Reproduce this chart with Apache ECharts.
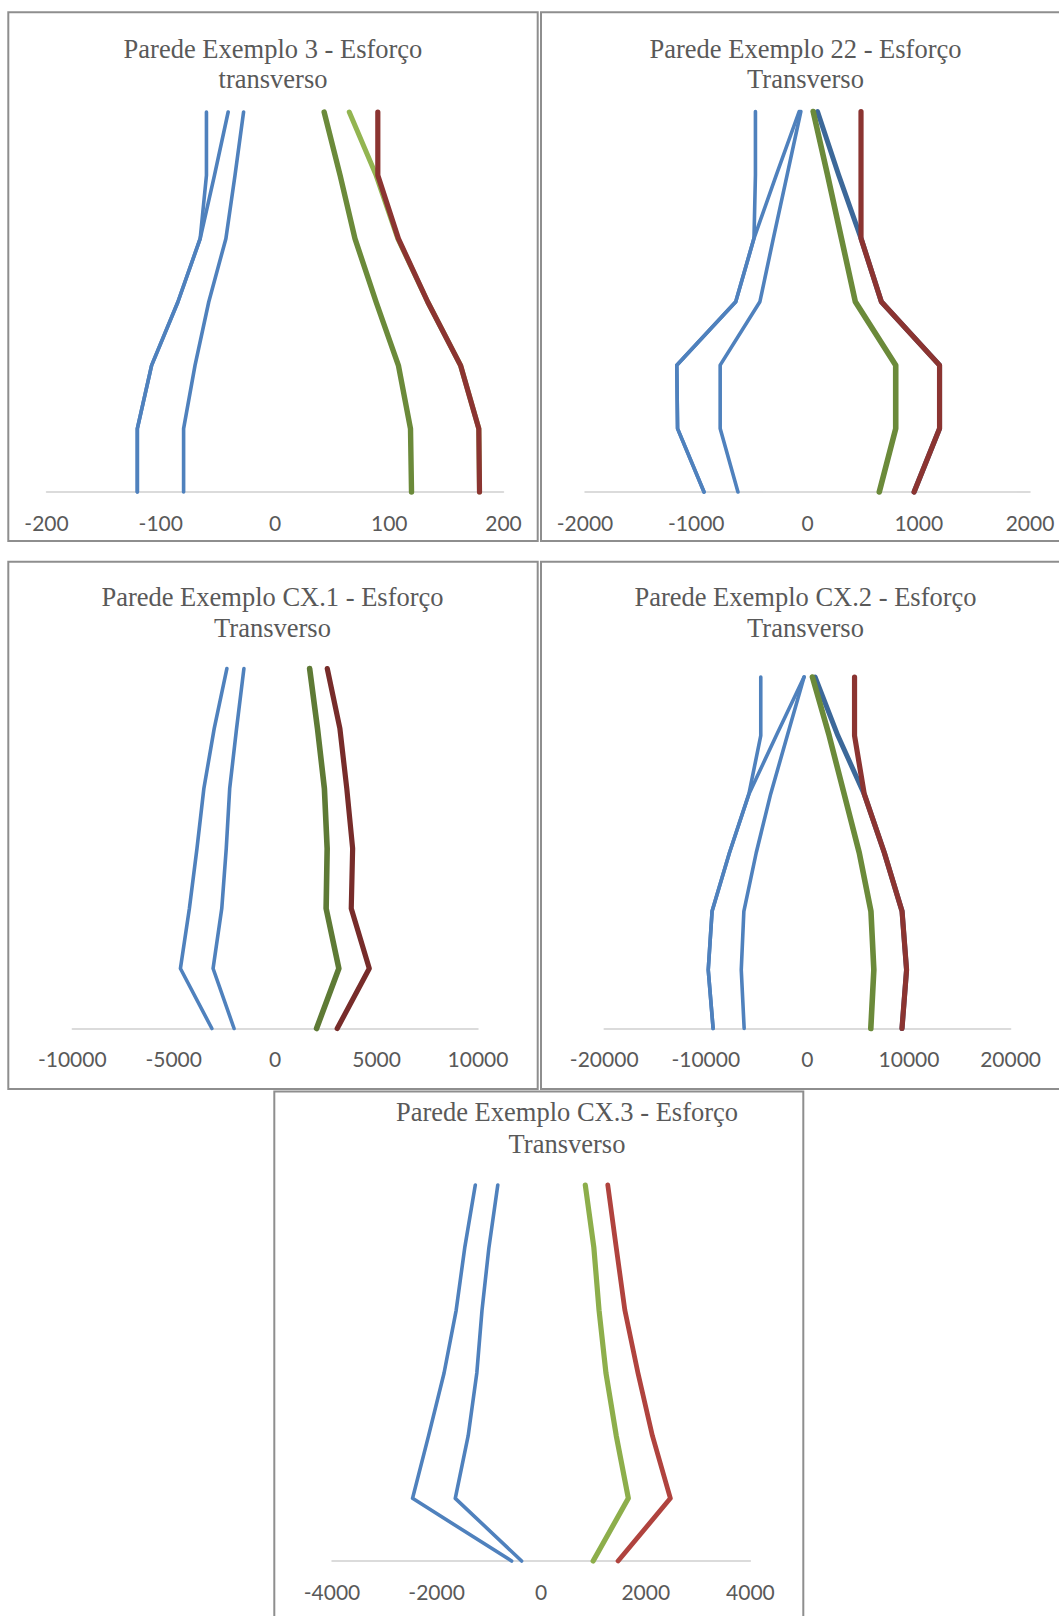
<!DOCTYPE html>
<html><head><meta charset="utf-8">
<script src="https://cdn.jsdelivr.net/npm/echarts@6/dist/echarts.min.js"></script>
<style>html,body{margin:0;padding:0;background:#fff;}#c{width:1059px;height:1616px;}</style>
</head><body><div id="c"></div>
<script>
// Floor levels, listed from the top of each line to the bottom
const levels = [6, 5, 4, 3, 2, 1, 0];

// ---- Panel 1: Parede Exemplo 3 ----
const p1Title = ['Parede Exemplo 3 - Esforço', 'transverso'];
const p1Ticks = [-200, -100, 0, 100, 200];
const p1BlueA = [-60, -60, -65.5, -85, -108, -120.5, -120.5];
const p1BlueB = [-41, -53, -65.5, -85, -108, -120.5, -120.5];
const p1BlueC = [-27.5, -35, -43, -58, -70, -80, -80];
const p1LightGreen = [65, 88.5, 107.5, 133.7, 162.4, 178.4, 179];
const p1DarkGreen = [43, 57, 70, 88.5, 108, 118.6, 119.5];
const p1Red = [90, 90, 108, 133.7, 162.4, 178.4, 179];

// ---- Panel 2: Parede Exemplo 22 ----
const p2Title = ['Parede Exemplo 22 - Esforço', 'Transverso'];
const p2Ticks = [-2000, -1000, 0, 1000, 2000];
const p2BlueA = [-468, -468, -481, -645, -1175, -1168, -930];
const p2BlueB = [-75, -280, -481, -645, -1175, -1168, -930];
const p2BlueC = [-60, -183, -307, -428, -785, -785, -625];
const p2DarkBlue = [90, 280, 481, 664, 1187, 1187, 958];
const p2DarkGreen = [51, 180, 305, 430, 793, 793, 645];
const p2Red = [481, 481, 481, 664, 1187, 1187, 958];

// ---- Panel 3: Parede Exemplo CX.1 ----
const p3Title = ['Parede Exemplo CX.1 - Esforço', 'Transverso'];
const p3Ticks = [-10000, -5000, 0, 5000, 10000];
const p3BlueOuter = [-2380, -3005, -3514, -3854, -4228, -4670, -3120];
const p3BlueInner = [-1540, -1902, -2241, -2411, -2632, -3060, -2025];
const p3DarkGreen = [1700, 2088, 2428, 2564, 2513, 3140, 2040];
const p3Red = [2570, 3192, 3531, 3820, 3752, 4640, 3060];

// ---- Panel 4: Parede Exemplo CX.2 ----
const p4Title = ['Parede Exemplo CX.2 - Esforço', 'Transverso'];
const p4Ticks = [-20000, -10000, 0, 10000, 20000];
const p4BlueA = [-4590, -4590, -5761, -7671, -9383, -9760, -9280];
const p4BlueB = [-329, -3062, -5761, -7671, -9383, -9760, -9280];
const p4BlueC = [-329, -1975, -3621, -5037, -6255, -6510, -6225];
const p4DarkBlue = [757, 2996, 5597, 7572, 9317, 9760, 9310];
const p4DarkGreen = [494, 2140, 3621, 5103, 6255, 6540, 6240];
const p4Red = [4640, 4640, 5597, 7572, 9317, 9760, 9310];

// ---- Panel 5: Parede Exemplo CX.3 ----
const p5Title = ['Parede Exemplo CX.3 - Esforço', 'Transverso'];
const p5Ticks = [-4000, -2000, 0, 2000, 4000];
const p5BlueOuter = [-1260, -1462, -1626, -1857, -2153, -2460, -565];
const p5BlueInner = [-830, -1000, -1132, -1231, -1396, -1643, -374];
const p5Green = [843, 1007, 1106, 1238, 1435, 1666, 993];
const p5Red = [1273, 1435, 1600, 1850, 2126, 2470, 1470];

// ---- styles ----
const BLUE = '#4F81BD', DKBLUE = '#3C6899', OLIVE = '#6B8A3A', LTGREEN = '#93B551',
      DKRED = '#8B3431', OLIVE3 = '#5E7A35', DKRED3 = '#772C2A', GREEN5 = '#8DAE4B', RED5 = '#B0433E';

const panels = [
  { title: p1Title, ticks: p1Ticks, lines: [
      [p1BlueA, BLUE, 3.6], [p1BlueB, BLUE, 3.6], [p1BlueC, BLUE, 3.6],
      [p1LightGreen, LTGREEN, 5], [p1Red, DKRED, 5.2], [p1DarkGreen, OLIVE, 5.4]] },
  { title: p2Title, ticks: p2Ticks, lines: [
      [p2BlueA, BLUE, 3.6], [p2BlueB, BLUE, 3.6], [p2BlueC, BLUE, 3.6],
      [p2DarkBlue, DKBLUE, 5], [p2Red, DKRED, 5.2], [p2DarkGreen, OLIVE, 5.6]] },
  { title: p3Title, ticks: p3Ticks, lines: [
      [p3BlueOuter, BLUE, 3.6], [p3BlueInner, BLUE, 3.6],
      [p3Red, DKRED3, 5.2], [p3DarkGreen, OLIVE3, 5.6]] },
  { title: p4Title, ticks: p4Ticks, lines: [
      [p4BlueA, BLUE, 3.6], [p4BlueB, BLUE, 3.6], [p4BlueC, BLUE, 3.6],
      [p4DarkBlue, DKBLUE, 5], [p4Red, DKRED, 5.2], [p4DarkGreen, OLIVE, 5.6]] },
  { title: p5Title, ticks: p5Ticks, lines: [
      [p5BlueOuter, BLUE, 3.6], [p5BlueInner, BLUE, 3.6],
      [p5Red, RED5, 4.8], [p5Green, GREEN5, 5.2]] }
];

// layout (pixels)
const layout = [
  { box: [8.3, 12.3, 537.7, 541], grid: [46.5, 112, 503.5, 492], tx: 273, ty: [48.6, 78.8] },
  { box: [541, 12.3, 1070, 541], grid: [585, 111.5, 1030, 492], tx: 805.5, ty: [48.6, 78.8] },
  { box: [8.3, 561.7, 537.7, 1089], grid: [72.3, 668.6, 478, 1028.5], tx: 272.5, ty: [597.2, 627.8] },
  { box: [541, 561.7, 1070, 1089], grid: [604.2, 677, 1010.6, 1028.5], tx: 805.5, ty: [597.2, 627.8] },
  { box: [274.3, 1091.5, 803.3, 1630], grid: [332, 1185, 750.4, 1561], tx: 567, ty: [1112.4, 1143.9] }
];

const grids = [], xAxes = [], yAxes = [], series = [], graphics = [];
panels.forEach((p, i) => {
  const L = layout[i];
  graphics.push({ type: 'rect', z: 1, silent: true,
    shape: { x: L.box[0], y: L.box[1], width: L.box[2] - L.box[0], height: L.box[3] - L.box[1] },
    style: { fill: 'none', stroke: '#8E8E8E', lineWidth: 2 } });
  p.title.forEach((t, k) => graphics.push({ type: 'text', z: 5, silent: true,
    style: { text: t, x: L.tx, y: L.ty[k], textAlign: 'center', textVerticalAlign: 'middle',
      font: '26.5px "Liberation Serif"', fill: '#595959' } }));
  grids.push({ left: L.grid[0], top: L.grid[1], width: L.grid[2] - L.grid[0], height: L.grid[3] - L.grid[1] });
  xAxes.push({ gridIndex: i, type: 'value', min: p.ticks[0], max: p.ticks[p.ticks.length - 1],
    interval: p.ticks[1] - p.ticks[0],
    axisLine: { show: true, onZero: false, lineStyle: { color: '#D0D0D0', width: 1.5 } },
    axisTick: { show: false }, splitLine: { show: false },
    axisLabel: { show: true, showMinLabel: true, showMaxLabel: true, color: '#595959',
      fontFamily: 'Lato', fontSize: 21, margin: 30, verticalAlign: 'middle',
      formatter: v => String(v) } });
  yAxes.push({ gridIndex: i, type: 'value', min: 0, max: 6, show: false });
  p.lines.forEach(([vals, color, w]) => series.push({
    type: 'line', xAxisIndex: i, yAxisIndex: i, symbol: 'none', showSymbol: false,
    clip: false, animation: false, silent: true,
    data: vals.map((v, k) => [v, levels[k]]),
    lineStyle: { color: color, width: w, cap: 'round', join: 'round' }
  }));
});

const chart = echarts.init(document.getElementById('c'), null, { renderer: 'svg' });
chart.setOption({
  animation: false,
  backgroundColor: '#ffffff',
  grid: grids, xAxis: xAxes, yAxis: yAxes, series: series, graphic: graphics
});
</script>
</body></html>
